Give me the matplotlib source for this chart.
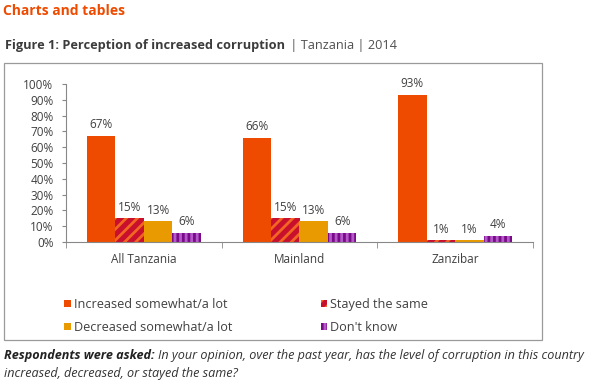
import numpy as np
import matplotlib
matplotlib.use("Agg")
import matplotlib.pyplot as plt
from matplotlib.patches import Rectangle

plt.rcParams['font.family'] = ['Open Sans', 'DejaVu Sans']
plt.rcParams['hatch.linewidth'] = 2.0

# --- DATA ---
categories = ['All Tanzania', 'Mainland', 'Zanzibar']
series_names = ['Increased somewhat/a lot', 'Stayed the same',
                'Decreased somewhat/a lot', "Don't know"]
increased = [67, 66, 93]
stayed = [15, 15, 1]
decreased = [13, 13, 1]
dont_know = [6, 6, 4]
y_ticks = [0, 10, 20, 30, 40, 50, 60, 70, 80, 90, 100]

series = [increased, stayed, decreased, dont_know]
faces = ['#EE4B00', '#C8102E', '#E89A00', '#7A0A8A']
hatches = [None, '///', None, '|||']
hatch_cols = [None, '#F26522', None, '#B45AC8']
TXT = '#404040'

fig = plt.figure(figsize=(5.96, 3.84), dpi=100)

# outer box
fig.patches.append(Rectangle((4 / 596, 44 / 384), 538 / 596, 277 / 384,
                             transform=fig.transFigure, fill=False,
                             edgecolor='#9a9a9a', linewidth=0.9))

fig.text(3 / 596, 1 - 11 / 384, 'Charts and tables', color='#EE4B00',
         fontsize=10, fontweight='bold', va='center')
t = fig.text(5 / 596, 1 - 45 / 384, 'Figure 1: Perception of increased corruption',
             color='#3c3c3c', fontsize=9.2, fontweight='bold', va='center')
fig.canvas.draw()
bb = t.get_window_extent()
fig.text(bb.x1 / 596 + 0.004, 1 - 45 / 384, ' | Tanzania | 2014', color='#505050',
         fontsize=9.2, va='center')

ax = fig.add_axes([66 / 596, 1 - 242 / 384, (533 - 66) / 596, (242 - 84) / 384])
x = np.arange(len(categories))
w = 0.183
for i, (vals, fc, h, hc) in enumerate(zip(series, faces, hatches, hatch_cols)):
    pos = x + (i - 1.5) * w
    bars = ax.bar(pos, vals, w, color=fc, label=series_names[i], zorder=2)
    if h:
        for b in bars:
            b.set_hatch(h)
            b.set_edgecolor(hc)
            b.set_linewidth(0)
    for p, v in zip(pos, vals):
        ax.text(p, v + 3, f'{v}%', ha='center', va='bottom', fontsize=8.5, color=TXT)

ax.set_xlim(-0.5, 2.5)
ax.set_ylim(0, 100)
ax.set_yticks(y_ticks)
ax.set_yticklabels([f'{v}%' for v in y_ticks], fontsize=8.5, color=TXT)
ax.set_xticks(x)
ax.set_xticklabels(categories, fontsize=8.5, color=TXT)
ax.tick_params(axis='x', length=0, pad=8)
ax.set_xticks([-0.5, 0.5, 1.5, 2.5], minor=True)
ax.tick_params(axis='x', which='minor', length=4, color='#888888')
ax.tick_params(axis='y', length=3, color='#888888', pad=6)
for s in ['top', 'right']:
    ax.spines[s].set_visible(False)
for s in ['left', 'bottom']:
    ax.spines[s].set_color('#888888')
    ax.spines[s].set_linewidth(0.8)
ax.patch.set_alpha(0)

handles, labels = ax.get_legend_handles_labels()
order = [0, 2, 1, 3]
fig.legend([handles[i] for i in order], [labels[i] for i in order],
           ncol=2, loc='center left', bbox_to_anchor=(53 / 596, 1 - 316 / 384),
           frameon=False, fontsize=9.1, handlelength=0.5, handleheight=0.5,
           handletextpad=0.25, columnspacing=7.0, labelspacing=0.75,
           labelcolor=TXT)

FT = 9.1
q = fig.text(4 / 596, 1 - 356 / 384, 'Respondents were asked:', color='#222222',
             fontsize=FT, fontweight='bold', fontstyle='italic', va='center')
fig.canvas.draw()
qb = q.get_window_extent()
fig.text(qb.x1 / 596 + 0.005, 1 - 356 / 384,
         'In your opinion, over the past year, has the level of corruption in this country',
         color='#333333', fontsize=FT, fontstyle='italic', va='center')
fig.text(4 / 596, 1 - 373 / 384, 'increased, decreased, or stayed the same?',
         color='#333333', fontsize=FT, fontstyle='italic', va='center')

fig.savefig('out.png', dpi=100)
